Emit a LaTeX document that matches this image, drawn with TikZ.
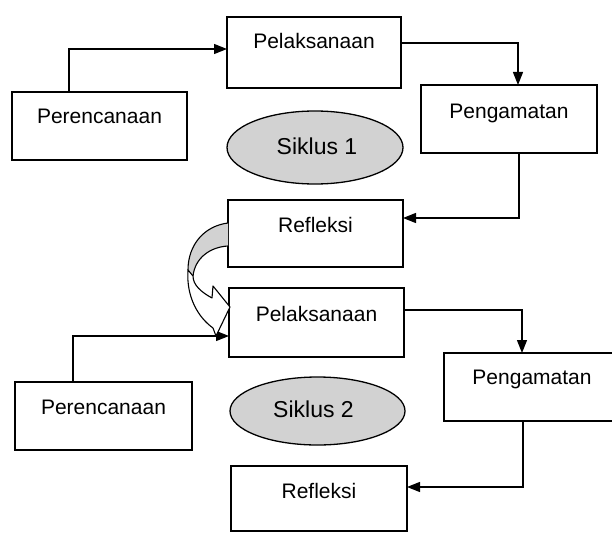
\documentclass[tikz,border=0pt]{standalone}
\usepackage{fontspec}
\setmainfont{Liberation Sans}
\usetikzlibrary{arrows.meta,calc,shapes.geometric}
\begin{document}
\begin{tikzpicture}[x=1pt,y=-1pt,
  box/.style={draw,line width=1.3pt,minimum width=175pt,minimum height=68pt,inner sep=0pt,outer sep=0pt},
  txt/.style={font=\fontsize{21}{25}\selectfont,inner sep=0pt,anchor=base},
  oval/.style={draw,ellipse,line width=1.3pt,fill=gray!35,inner sep=0pt,outer sep=0pt},
  ovtxt/.style={font=\fontsize{23}{27}\selectfont,inner sep=0pt,anchor=base},
  arr/.style={line width=1.3pt,-{Triangle[length=13pt,width=10pt]}},
  band/.style={draw,line width=1.1pt,line join=round},
  ]
\useasboundingbox (0,0) rectangle (612,532);
\clip (0,0) rectangle (612,532);

% boxes
\node[box,minimum width=174pt,minimum height=71pt] (p1) at (314,52.5) {};
\node[box,minimum width=175pt,minimum height=68pt] (r1) at (99.5,126) {};
\node[box,minimum width=176pt] (g1) at (509,119) {};
\node[box,minimum height=67pt] (f1) at (315.5,233.5) {};
\node[box,minimum height=69pt] (p2) at (316.5,322.5) {};
\node[box,minimum width=177pt] (r2) at (103.5,416) {};
\node[box,minimum width=176pt] (g2) at (532,387) {};
\node[box,minimum width=176pt,minimum height=65pt] (f2) at (319,498.5) {};

% texts
\node[txt] (p1t) at ([yshift=-32pt]p1.north) {Pelaksanaan};
\node[txt] (r1t) at ([yshift=-32pt]r1.north) {Perencanaan};
\node[txt] (g1t) at ([yshift=-33pt]g1.north) {Pengamatan};
\node[txt] (f1t) at ([yshift=-32pt]f1.north) {Refleksi};
\node[txt] (p2t) at ([yshift=-33pt]p2.north) {Pelaksanaan};
\node[txt] (r2t) at ([yshift=-32pt]r2.north) {Perencanaan};
\node[txt] (g2t) at ([yshift=-31pt]g2.north) {Pengamatan};
\node[txt] (f2t) at ([yshift=-32pt]f2.north) {Refleksi};

% ellipses
\node[oval,minimum width=176pt,minimum height=73pt] (e1) at (315,147.5) {};
\node[oval,minimum width=175pt,minimum height=68pt] (e2) at (317.5,411) {};
\node[ovtxt] (e1t) at ([xshift=2pt,yshift=-7pt]e1.center) {Siklus 1};
\node[ovtxt] (e2t) at ([xshift=-4pt,yshift=-6.5pt]e2.center) {Siklus 2};

% connectors
\draw[arr] ([xshift=-30.5pt]r1.north) |- ([yshift=3.5pt]p1.west);
\draw[arr] ([yshift=9.5pt]p1.east) -| ([xshift=9pt]g1.north);
\draw[arr] ([xshift=10pt]g1.south) |- ([yshift=15.5pt]f1.east);
\draw[arr] ([xshift=-30.5pt]r2.north) |- ([yshift=-13.5pt]p2.west);
\draw[arr] ([yshift=12.5pt]p2.east) -| ([xshift=-10pt]g2.north);
\draw[arr] ([xshift=-9pt]g2.south) |- ([yshift=11.5pt]f2.east);

% curved block arrow from Refleksi 1 to Pelaksanaan 2
\fill[gray!35] (228,223) .. controls (204,226) and (188,245) .. (188,270)
  -- (193,276) .. controls (195,258) and (210,247) .. (228,246) -- cycle;
\draw[band] (228,223) .. controls (204,226) and (188,245) .. (188,270);
\draw[band] (193,276) .. controls (195,258) and (210,247) .. (228,246);
\filldraw[band,fill=white] (188,270) .. controls (186,298) and (199,318) .. (213,328)
  -- (216,336) -- (230,307) -- (213,286) -- (212,298)
  .. controls (201,292) and (193,285) .. (193,276) -- cycle;
\end{tikzpicture}
\end{document}
